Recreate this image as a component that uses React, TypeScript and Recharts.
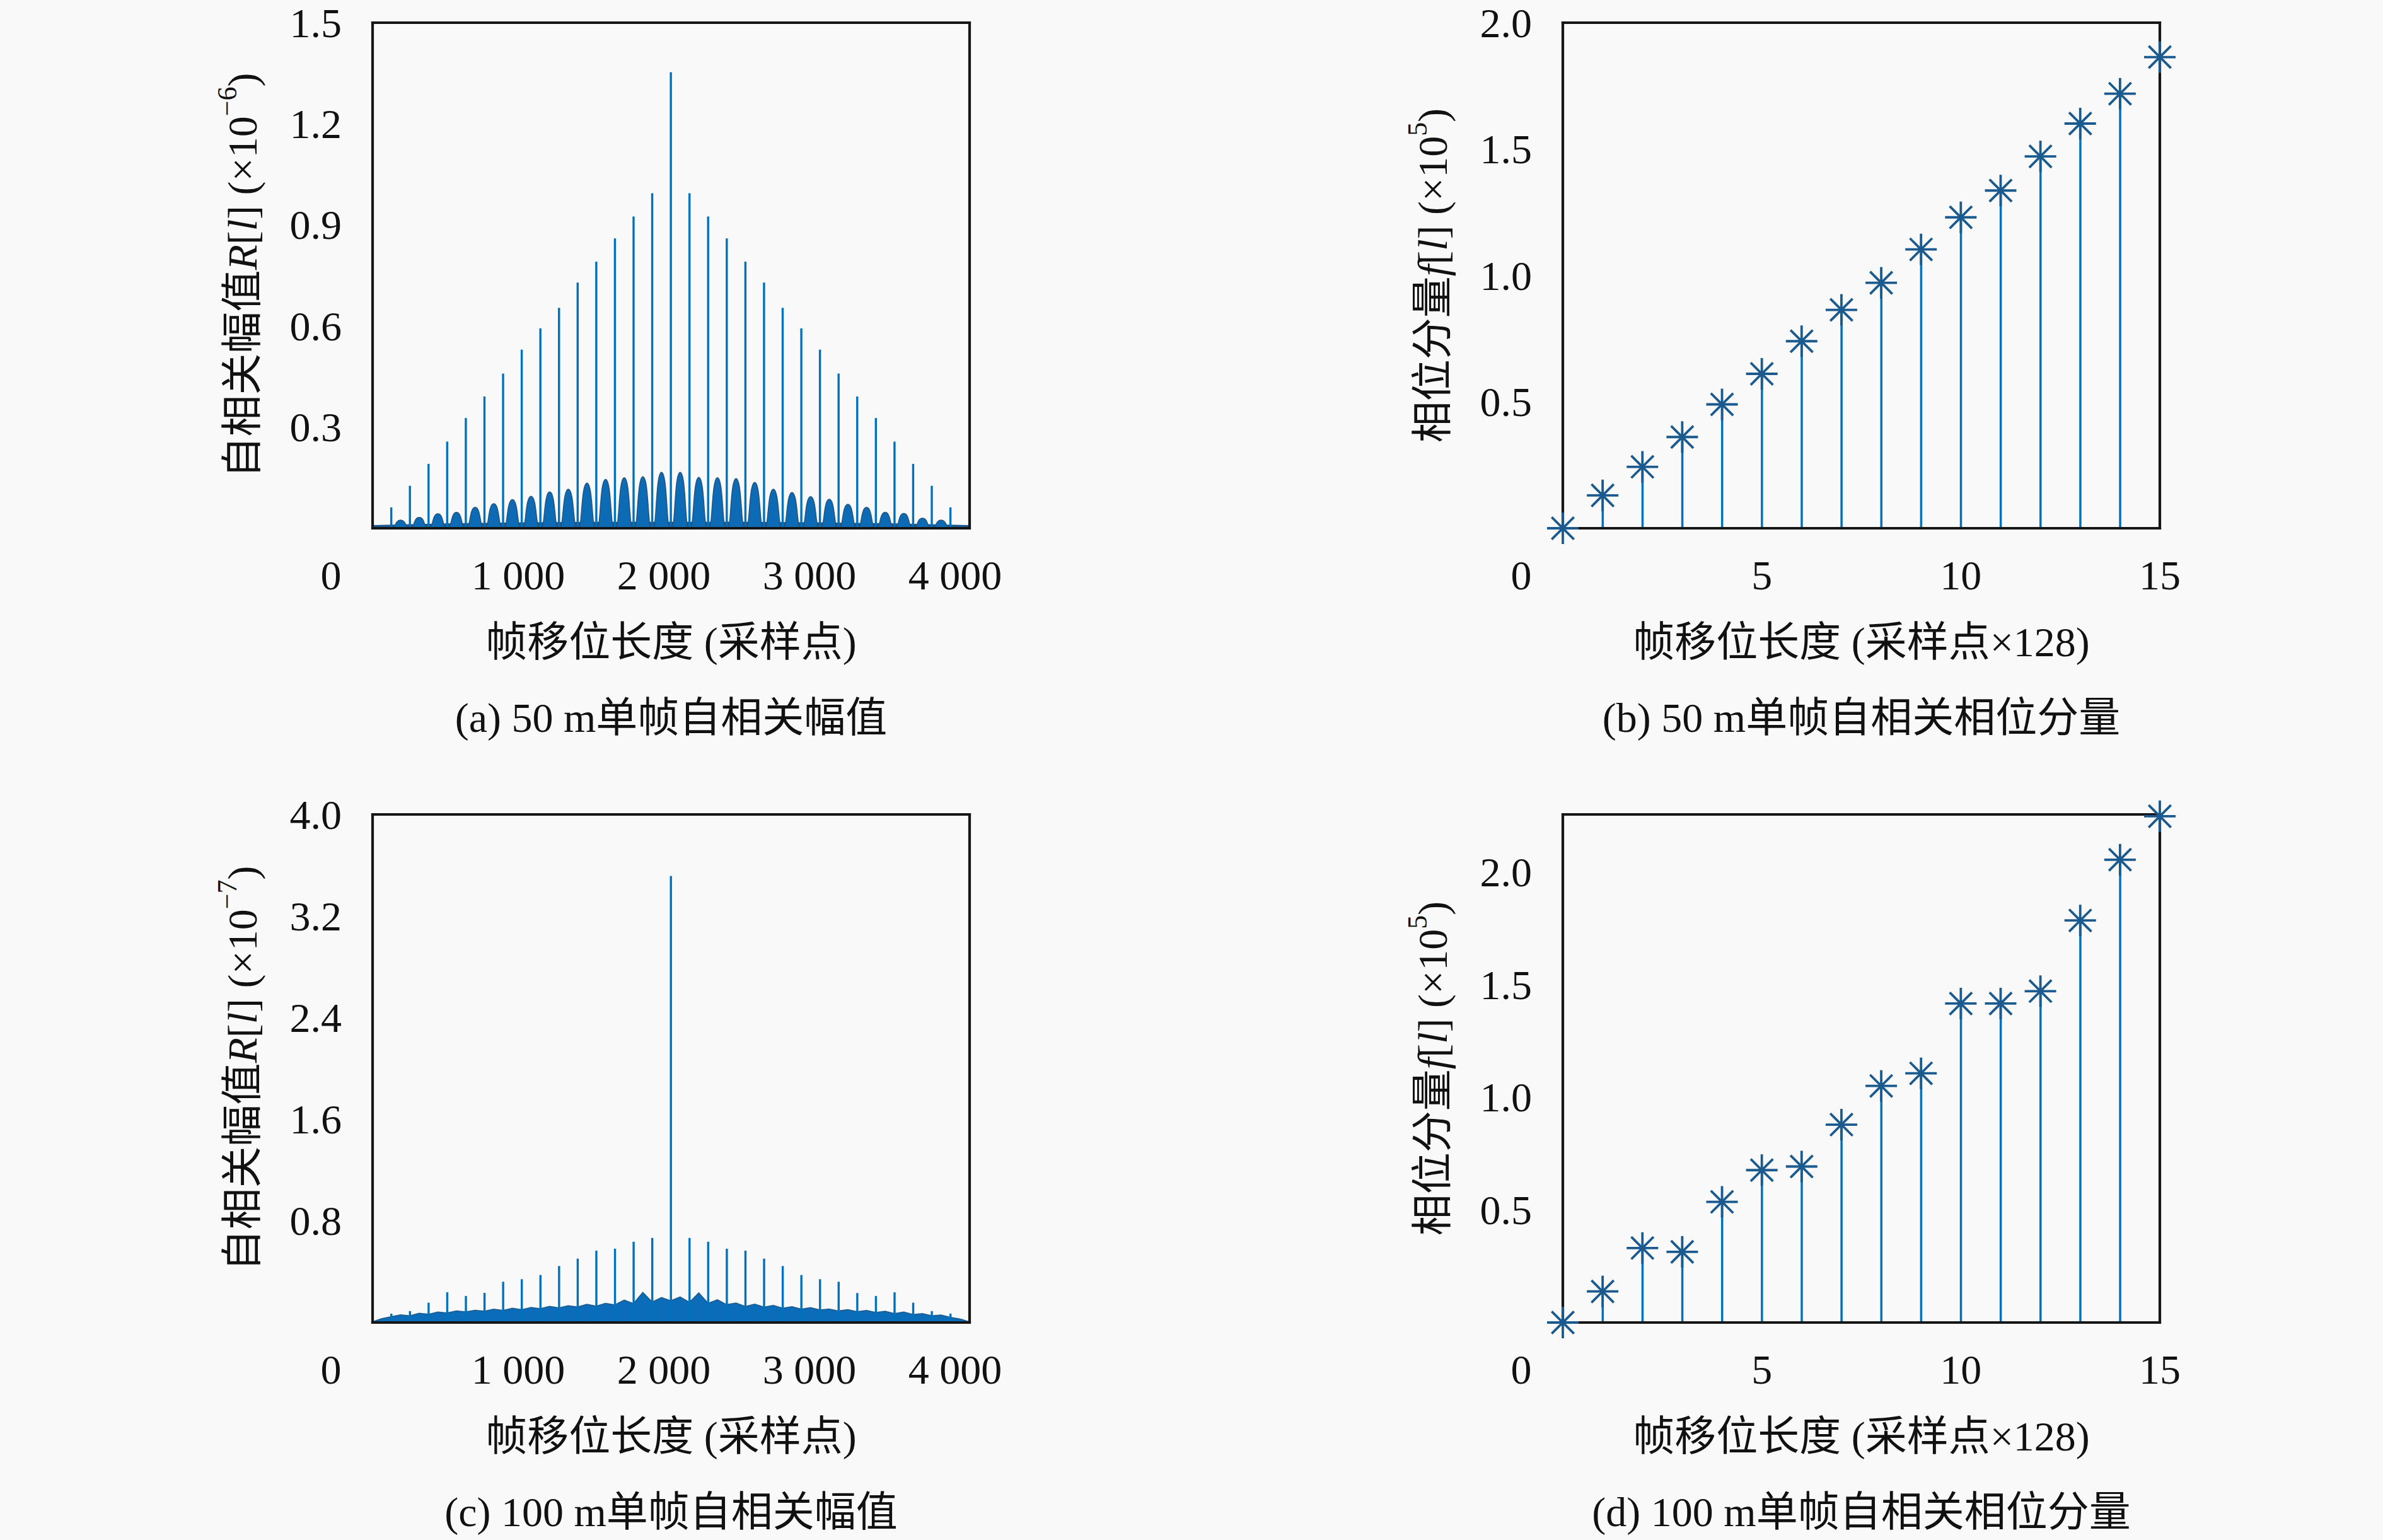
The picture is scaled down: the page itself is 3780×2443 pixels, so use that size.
import React from "react";
import { ComposedChart, Bar, Area, Scatter, XAxis, YAxis, Label } from "recharts";

// ---- data ----
// (a)/(c): sample lag of the frame shift, spikes at every 128 samples
const spikeLags = [128, 256, 384, 512, 640, 768, 896, 1024, 1152, 1280, 1408, 1536, 1664, 1792, 1920, 2048,
  2176, 2304, 2432, 2560, 2688, 2816, 2944, 3072, 3200, 3328, 3456, 3584, 3712, 3840, 3968];
const humpLags = [192, 320, 448, 576, 704, 832, 960, 1088, 1216, 1344, 1472, 1600, 1728, 1856, 1984,
  2112, 2240, 2368, 2496, 2624, 2752, 2880, 3008, 3136, 3264, 3392, 3520, 3648, 3776, 3904];
const floorLags = [0, 512, 1024, 1536, 2048, 2560, 3072, 3584, 4095];
const noiseLags = [0, 64, 128, 192, 256, 320, 384, 448, 512, 576, 640, 704, 768, 832, 896, 960, 1024,
  1088, 1152, 1216, 1280, 1344, 1408, 1472, 1536, 1600, 1664, 1728, 1792, 1856, 1920, 1984, 2048,
  2112, 2176, 2240, 2304, 2368, 2432, 2496, 2560, 2624, 2688, 2752, 2816, 2880, 2944, 3008, 3072,
  3136, 3200, 3264, 3328, 3392, 3456, 3520, 3584, 3648, 3712, 3776, 3840, 3904, 3968, 4032, 4095];

// (a) 50 m, R[l] x1e-6
const spikeA = [0.062, 0.126, 0.191, 0.257, 0.327, 0.391, 0.459, 0.53, 0.593, 0.654, 0.729, 0.791, 0.86, 0.925, 0.994, 1.353,
  0.994, 0.925, 0.86, 0.791, 0.729, 0.654, 0.593, 0.53, 0.459, 0.391, 0.327, 0.257, 0.191, 0.126, 0.062];
const humpA = [0.024, 0.032, 0.043, 0.047, 0.062, 0.073, 0.085, 0.095, 0.108, 0.116, 0.134, 0.145, 0.15, 0.153, 0.166,
  0.166, 0.151, 0.15, 0.147, 0.136, 0.116, 0.106, 0.094, 0.086, 0.071, 0.062, 0.047, 0.044, 0.03, 0.024];
const floorA = [0.008, 0.013, 0.016, 0.018, 0.018, 0.018, 0.016, 0.013, 0.008];

// (c) 100 m, R[l] x1e-7
const spikeC = [0.07, 0.09, 0.156, 0.238, 0.209, 0.233, 0.321, 0.341, 0.374, 0.445, 0.503, 0.566, 0.581, 0.636, 0.666, 3.515,
  0.666, 0.636, 0.581, 0.566, 0.503, 0.445, 0.374, 0.341, 0.321, 0.232, 0.209, 0.238, 0.156, 0.09, 0.07];
const noiseC = [0.005, 0.03, 0.045, 0.06, 0.052, 0.072, 0.064, 0.082, 0.074, 0.09, 0.083, 0.096, 0.088, 0.104, 0.094, 0.112,
  0.1, 0.118, 0.108, 0.126, 0.114, 0.132, 0.122, 0.142, 0.128, 0.15, 0.138, 0.176, 0.148, 0.236, 0.16, 0.196, 0.17,
  0.2, 0.158, 0.232, 0.15, 0.178, 0.14, 0.152, 0.126, 0.144, 0.12, 0.134, 0.112, 0.124, 0.104, 0.116, 0.098,
  0.106, 0.09, 0.1, 0.084, 0.094, 0.078, 0.088, 0.07, 0.082, 0.062, 0.07, 0.052, 0.058, 0.04, 0.028, 0.005];

// (b)/(d): frame shift (x128 samples) and phase component f[l] x1e5
const shifts = [0, 1, 2, 3, 4, 5, 6, 7, 8, 9, 10, 11, 12, 13, 14, 15];
const phaseB = [0, 0.13, 0.243, 0.361, 0.49, 0.611, 0.74, 0.864, 0.971, 1.103, 1.23, 1.336, 1.471, 1.601, 1.719, 1.864];
const phaseD = [0, 0.138, 0.331, 0.314, 0.536, 0.677, 0.693, 0.879, 1.051, 1.107, 1.417, 1.417, 1.472, 1.786, 2.056, 2.249];

const lagTicks = [0, 1000, 2000, 3000, 4000];
const shiftTicks = [0, 5, 10, 15];

// ---- helpers ----
type Part = { lags: number[]; key: string; values: number[]; kind?: string };
function buildRows(parts: Part[]) {
  const map = new Map<number, any>();
  parts.forEach((p) =>
    p.lags.forEach((l, i) => {
      const row = map.get(l) ?? { x: l };
      row[p.key] = p.values[i];
      if (p.kind) row.kind = p.kind;
      map.set(l, row);
    })
  );
  return [...map.values()].sort((a, b) => a.x - b.x);
}

const rowsA = buildRows([
  { lags: spikeLags, key: "R", values: spikeA, kind: "spike" },
  { lags: humpLags, key: "R", values: humpA, kind: "hump" },
  { lags: floorLags, key: "floor", values: floorA },
]);
const rowsC = buildRows([
  { lags: noiseLags, key: "floor", values: noiseC },
  { lags: spikeLags, key: "R", values: spikeC, kind: "spike" },
]);
const rowsB = shifts.map((s, i) => ({ x: s, f: phaseB[i] }));
const rowsD = shifts.map((s, i) => ({ x: s, f: phaseD[i] }));

const BLUE = "#0072BD";
const MARK = "#1b5a8e";
const INK = "#111";
const SERIF = "'Liberation Serif', 'Noto Sans CJK SC', serif";
const FS = 66;

const PLOT_W = 946;
const Y_W = 291;
const M_TOP = 80;
const M_RIGHT = 99;

const axisLine = { stroke: "#161616", strokeWidth: 4.2, strokeLinecap: "square" };
const tickLine = { stroke: "#161616", strokeWidth: 3.8 };

const fmtLag = (v: number) => String(v).replace(/(\d)(?=(\d{3})+$)/g, "$1 ");

const SpikeShape = (p: any) => {
  const { x, y, width, height, payload } = p;
  if (!payload || payload.R == null || !isFinite(height)) return null;
  const cx = x + width / 2;
  if (payload.kind === "hump") {
    const w = 26;
    const b = y + height;
    const x0 = cx - w / 2;
    const x1 = cx + w / 2;
    const d = `M${x0},${b} C${x0 + w * 0.2},${b} ${x0 + w * 0.15},${y} ${cx},${y} C${x1 - w * 0.15},${y} ${x1 - w * 0.2},${b} ${x1},${b} Z`;
    return <path d={d} fill="#0d6ab5" stroke="#245784" strokeWidth={1.6} />;
  }
  return <rect x={cx - 1.7} y={y} width={3.4} height={height} fill={BLUE} />;
};

const Asterisk = (p: any) => {
  const { cx, cy } = p;
  const r = 25;
  const d = r * Math.SQRT1_2;
  return (
    <g stroke={MARK} strokeWidth={3.8}>
      <line x1={cx - r} y1={cy} x2={cx + r} y2={cy} />
      <line x1={cx} y1={cy - r} x2={cx} y2={cy + r} />
      <line x1={cx - d} y1={cy - d} x2={cx + d} y2={cy + d} />
      <line x1={cx - d} y1={cy + d} x2={cx + d} y2={cy - d} />
    </g>
  );
};

const XTick = (p: any) => {
  const { x, y, payload, fmt } = p;
  const v = payload.value;
  return (
    <text x={v === 0 ? x - 66 : x} y={y + 74} textAnchor="middle" dominantBaseline="central"
      fontFamily={SERIF} fontSize={FS} fill={INK}>
      {fmt(v)}
    </text>
  );
};

const YTick = (p: any) => {
  const { x, y, payload } = p;
  return (
    <text x={x} y={y} textAnchor="end" dominantBaseline="central" fontFamily={SERIF} fontSize={FS} fill={INK}>
      {payload.value.toFixed(1)}
    </text>
  );
};

const yTitleA = (exp: string, amp: boolean) => (
  <>
    {amp ? "自相关幅值" : "相位分量"}
    <tspan fontStyle="italic">{amp ? "R" : "f"}</tspan>[<tspan fontStyle="italic">l</tspan>] (×10
    <tspan dy={-24} fontSize={44}>{exp}</tspan>
    <tspan dy={24}>)</tspan>
  </>
);

type PanelProps = {
  left: number;
  plotTop: number;
  plotH: number;
  height: number;
  rows: any[];
  xDomain: [number, number];
  xTicks: number[];
  fmt: (v: number) => string;
  yDomain: [number, number];
  yTicks: number[];
  yTitle: React.ReactNode;
  xTitle: string;
  caption: string;
  children: React.ReactNode;
};

function Panel(props: PanelProps) {
  const { left, plotTop, plotH, height, rows, xDomain, xTicks, fmt, yDomain, yTicks, yTitle, xTitle, caption, children } = props;
  const top = plotTop - M_TOP - 1;
  const width = Y_W + PLOT_W + 1 + M_RIGHT;
  const bottomH = height - M_TOP - 1 - plotH;
  const innerX = xTicks.filter((t) => t !== 0);
  return (
    <div style={{ position: "absolute", left, top }}>
      <ComposedChart width={width} height={height} data={rows} style={{ overflow: "visible" }}
        margin={{ top: M_TOP, right: M_RIGHT, bottom: 0, left: 0 }}>
        <XAxis xAxisId="b" dataKey="x" type="number" domain={xDomain} ticks={xTicks} interval={0} height={bottomH}
          axisLine={axisLine} tickLine={false} tickSize={0} tickMargin={0} tick={<XTick fmt={fmt} />}>
          <Label content={(p: any) => (
            <text x={p.viewBox.x + p.viewBox.width / 2} y={p.viewBox.y + 180} textAnchor="middle"
              dominantBaseline="central" fontFamily={SERIF} fontSize={FS} fill={INK}>{xTitle}</text>
          )} />
          <Label content={(p: any) => (
            <text x={p.viewBox.x + p.viewBox.width / 2} y={p.viewBox.y + 300} textAnchor="middle"
              dominantBaseline="central" fontFamily={SERIF} fontSize={FS} fill={INK}>{caption}</text>
          )} />
        </XAxis>
        <XAxis xAxisId="t" orientation="top" dataKey="x" type="number" domain={xDomain} ticks={innerX} interval={0}
          height={1} mirror axisLine={axisLine} tickLine={tickLine} tickSize={14} tick={false} />
        <YAxis yAxisId="l" type="number" domain={yDomain} ticks={yTicks} interval={0} width={Y_W}
          axisLine={axisLine} tickLine={false} tickSize={0} tickMargin={49} tick={<YTick />}>
          <Label content={(p: any) => {
            const cx = p.viewBox.x + p.viewBox.width - 207;
            const cy = p.viewBox.y + p.viewBox.height / 2;
            return (
              <text x={cx} y={cy} transform={`rotate(-90 ${cx} ${cy})`} textAnchor="middle"
                dominantBaseline="central" fontFamily={SERIF} fontSize={FS} fill={INK}>{yTitle}</text>
            );
          }} />
        </YAxis>
        <YAxis yAxisId="r" orientation="right" type="number" domain={yDomain} ticks={yTicks} interval={0} width={1}
          mirror axisLine={axisLine} tickLine={tickLine} tickSize={14} tick={false} />
        {children}
      </ComposedChart>
    </div>
  );
}

export default function App() {
  return (
    <div style={{ position: "relative", width: 3780, height: 2443, background: "#f9f9f9", overflow: "hidden" }}>
      <style>{`body{margin:0;background:#f9f9f9}`}</style>
      <Panel left={300} plotTop={37} plotH={801} height={1285} rows={rowsA} xDomain={[0, 4100]} xTicks={lagTicks} fmt={fmtLag}
        yDomain={[0, 1.5]} yTicks={[0.3, 0.6, 0.9, 1.2, 1.5]} yTitle={yTitleA("−6", true)}
        xTitle="帧移位长度 (采样点)" caption="(a) 50 m单帧自相关幅值">
        <Area xAxisId="b" yAxisId="l" type="linear" dataKey="floor" connectNulls fill="#1b5690" fillOpacity={1}
          stroke="#1b5690" strokeWidth={1.5} isAnimationActive={false} />
        <Bar xAxisId="b" yAxisId="l" dataKey="R" shape={SpikeShape} isAnimationActive={false} />
      </Panel>
      <Panel left={2188} plotTop={37} plotH={801} height={1285} rows={rowsB} xDomain={[0, 15]} xTicks={shiftTicks} fmt={(v) => String(v)}
        yDomain={[0, 2]} yTicks={[0.5, 1, 1.5, 2]} yTitle={yTitleA("5", false)}
        xTitle="帧移位长度 (采样点×128)" caption="(b) 50 m单帧自相关相位分量">
        <Bar xAxisId="b" yAxisId="l" dataKey="f" barSize={3.5} fill={BLUE} isAnimationActive={false} />
        <Scatter xAxisId="b" yAxisId="l" dataKey="f" shape={Asterisk} isAnimationActive={false} />
      </Panel>
      <Panel left={300} plotTop={1293} plotH={805} height={1231} rows={rowsC} xDomain={[0, 4100]} xTicks={lagTicks} fmt={fmtLag}
        yDomain={[0, 4]} yTicks={[0.8, 1.6, 2.4, 3.2, 4.0]} yTitle={yTitleA("−7", true)}
        xTitle="帧移位长度 (采样点)" caption="(c) 100 m单帧自相关幅值">
        <Area xAxisId="b" yAxisId="l" type="linear" dataKey="floor" connectNulls fill="#0b6dba" fillOpacity={1}
          stroke="#1c5f96" strokeWidth={2} isAnimationActive={false} />
        <Bar xAxisId="b" yAxisId="l" dataKey="R" shape={SpikeShape} isAnimationActive={false} />
      </Panel>
      <Panel left={2188} plotTop={1293} plotH={805} height={1231} rows={rowsD} xDomain={[0, 15]} xTicks={shiftTicks} fmt={(v) => String(v)}
        yDomain={[0, 2.257]} yTicks={[0.5, 1, 1.5, 2]} yTitle={yTitleA("5", false)}
        xTitle="帧移位长度 (采样点×128)" caption="(d) 100 m单帧自相关相位分量">
        <Bar xAxisId="b" yAxisId="l" dataKey="f" barSize={3.5} fill={BLUE} isAnimationActive={false} />
        <Scatter xAxisId="b" yAxisId="l" dataKey="f" shape={Asterisk} isAnimationActive={false} />
      </Panel>
    </div>
  );
}
